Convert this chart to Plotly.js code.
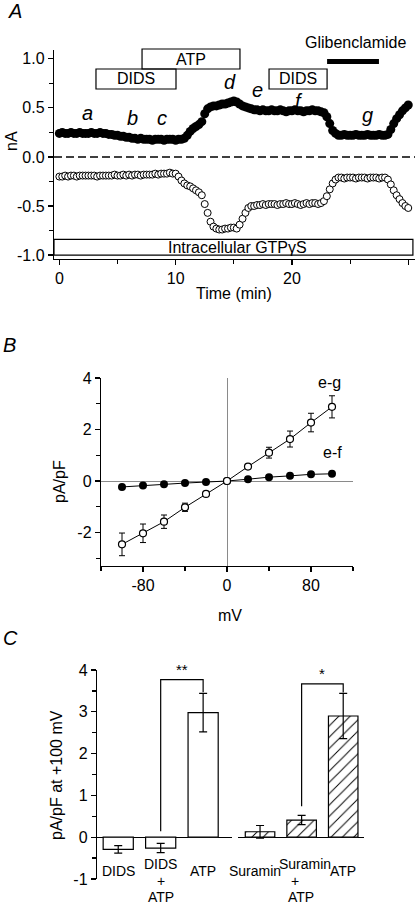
<!DOCTYPE html>
<html><head><meta charset="utf-8">
<script src="https://cdn.plot.ly/plotly-3.0.1.min.js"></script>
<style>html,body{margin:0;padding:0;background:#fff}#chart{width:417px;height:905px}</style>
</head><body><div id="chart"></div>
<script>
// ---------- Panel A: time course ----------
const TIME_MIN = [0,0.25,0.5,0.75,1,1.25,1.5,1.75,2,2.25,2.5,2.75,3,3.25,3.5,3.75,4,4.25,4.5,4.75,5,5.25,5.5,5.75,6,6.25,6.5,6.75,7,7.25,7.5,7.75,8,8.25,8.5,8.75,9,9.25,9.5,9.75,10,10.25,10.5,10.75,11,11.25,11.5,11.75,12,12.25,12.5,12.75,13,13.25,13.5,13.75,14,14.25,14.5,14.75,15,15.25,15.5,15.75,16,16.25,16.5,16.75,17,17.25,17.5,17.75,18,18.25,18.5,18.75,19,19.25,19.5,19.75,20,20.25,20.5,20.75,21,21.25,21.5,21.75,22,22.25,22.5,22.75,23,23.25,23.5,23.75,24,24.25,24.5,24.75,25,25.25,25.5,25.75,26,26.25,26.5,26.75,27,27.25,27.5,27.75,28,28.25,28.5,28.75,29,29.25,29.5,29.75,30];
const OUTWARD_NA = [0.24,0.25,0.24,0.24,0.25,0.24,0.24,0.25,0.24,0.24,0.24,0.25,0.24,0.24,0.25,0.24,0.24,
  0.23,0.23,0.22,0.22,0.21,0.21,0.20,0.20,0.19,0.19,
  0.18,0.19,0.18,0.18,0.18,0.17,0.18,0.18,0.18,0.17,0.18,0.18,0.18,0.17,0.18,0.18,0.19,
  0.22,0.26,0.29,0.31,0.33,0.36,
  0.44,0.49,
  0.51,0.52,0.52,0.53,0.54,0.54,0.55,0.56,0.57,
  0.56,0.54,0.52,0.51,0.50,0.49,
  0.48,0.48,0.47,0.48,0.47,0.47,0.48,0.47,0.47,0.48,0.47,0.46,0.47,0.47,0.48,0.47,0.47,0.46,0.47,0.47,0.48,0.47,0.47,0.46,0.45,
  0.41,0.34,0.27,0.24,
  0.22,0.22,0.23,0.22,0.22,0.22,0.23,0.22,0.22,0.22,0.23,0.22,0.22,0.22,0.23,0.22,0.22,0.23,
  0.28,0.34,0.39,0.43,0.47,0.50,0.53];
const INWARD_NA = [-0.20,-0.20,-0.19,-0.20,-0.19,-0.19,-0.20,-0.19,-0.19,-0.19,
  -0.19,-0.19,-0.19,-0.20,-0.19,-0.19,-0.19,-0.19,-0.19,-0.18,
  -0.19,-0.19,-0.18,-0.19,-0.18,-0.19,-0.18,-0.18,-0.19,-0.18,
  -0.18,-0.18,-0.18,-0.17,-0.18,-0.17,-0.17,-0.17,-0.16,-0.17,
  -0.17,-0.20,-0.24,-0.27,-0.29,-0.30,-0.32,-0.34,-0.36,-0.39,
  -0.48,-0.57,-0.66,-0.71,
  -0.73,-0.74,-0.74,-0.73,-0.73,-0.72,-0.72,-0.73,
  -0.69,-0.63,-0.57,-0.52,-0.50,
  -0.50,-0.49,-0.49,-0.48,-0.49,-0.48,-0.48,-0.48,-0.49,-0.48,-0.48,-0.47,-0.48,-0.48,-0.47,-0.48,-0.49,-0.48,-0.47,-0.48,-0.47,-0.47,-0.48,-0.47,
  -0.45,-0.40,-0.33,-0.27,-0.23,
  -0.21,-0.21,-0.22,-0.21,-0.21,-0.21,-0.22,-0.21,-0.21,-0.21,-0.22,-0.21,-0.21,-0.21,-0.22,-0.21,-0.21,
  -0.23,-0.28,-0.34,-0.39,-0.43,-0.47,-0.50,-0.52];
const A_YTICKS = [-1,-0.5,0,0.5,1];
const A_YTEXT = ['-1.0','-0.5','0.0','0.5','1.0'];
const A_XTICKS = [0,10,20,30];
const A_XTEXT = ['0','10','20','30'];
const A_LETTERS = ['a','b','c','d','e','f','g'];

// ---------- Panel B: I-V ----------
const IV_MV = [-100,-80,-60,-40,-20,0,20,40,60,80,100];
const IV_EF = [-0.23,-0.17,-0.13,-0.08,-0.04,0,0.07,0.15,0.20,0.26,0.28];
const IV_EG = [-2.46,-2.03,-1.58,-1.02,-0.50,0,0.56,1.10,1.63,2.27,2.88];
const IV_EG_ERR = [0.44,0.36,0.26,0.16,0.08,0.03,0.07,0.21,0.31,0.36,0.43];
const B_XTICKS = [-80,0,80];
const B_XTEXT = ['-80','0','80'];
const B_YTICKS = [-2,0,2,4];
const B_YTEXT = ['-2','0','2','4'];

// ---------- Panel C: bars ----------
const BAR_CATS_1 = ['DIDS','DIDS + ATP','ATP'];
const BAR_VALS_1 = [-0.29,-0.26,2.98];
const BAR_ERR_1 = [0.09,0.11,0.46];
const BAR_CATS_2 = ['Suramin','Suramin + ATP','ATP'];
const BAR_VALS_2 = [0.13,0.41,2.90];
const BAR_ERR_2 = [0.15,0.11,0.54];
const C_YTICKS = [-1,0,1,2,3,4];
const C_YTEXT = ['-1','0','1','2','3','4'];

// ---------- layout helpers ----------
const W = 417, H = 905;
const px = v => v / W;
const py = v => 1 - v / H;
const FONT = 'Liberation Sans, Arial, sans-serif';
const BLACK = '#000';

function axis(extra) {
  return Object.assign({
    showline: true, linecolor: BLACK, linewidth: 1.2,
    ticks: 'outside', ticklen: 5, tickwidth: 1.2, tickcolor: BLACK,
    showgrid: false, zeroline: false, fixedrange: true,
    tickfont: {family: FONT, size: 16, color: BLACK}
  }, extra);
}
function minor(d) {
  return {tickmode: 'linear', tick0: 0, dtick: d, ticks: 'outside', ticklen: 4, tickwidth: 1.2, tickcolor: BLACK, showgrid: false};
}

const traces = [
  {type: 'scatter', mode: 'markers', x: TIME_MIN, y: OUTWARD_NA, xaxis: 'x', yaxis: 'y',
   marker: {symbol: 'circle', size: 9, color: BLACK}, hoverinfo: 'skip'},
  {type: 'scatter', mode: 'markers', x: TIME_MIN, y: INWARD_NA, xaxis: 'x', yaxis: 'y',
   marker: {symbol: 'circle', size: 7, color: '#fff', line: {color: BLACK, width: 1}}, hoverinfo: 'skip'},
  {type: 'scatter', mode: 'lines+markers', x: IV_MV, y: IV_EF, xaxis: 'x2', yaxis: 'y2',
   line: {color: BLACK, width: 1}, marker: {size: 8, color: BLACK}},
  {type: 'scatter', mode: 'lines+markers', x: IV_MV, y: IV_EG, xaxis: 'x2', yaxis: 'y2',
   line: {color: BLACK, width: 1}, marker: {size: 7, color: '#fff', line: {color: BLACK, width: 1.2}},
   error_y: {type: 'data', array: IV_EG_ERR, color: BLACK, thickness: 1, width: 3}},
  {type: 'bar', x: BAR_CATS_1, y: BAR_VALS_1, xaxis: 'x3', yaxis: 'y3', width: 0.71,
   marker: {color: '#fff', line: {color: BLACK, width: 1.2}},
   error_y: {type: 'data', array: BAR_ERR_1, color: BLACK, thickness: 1.2, width: 4}},
  {type: 'bar', x: BAR_CATS_2, y: BAR_VALS_2, xaxis: 'x4', yaxis: 'y3', width: 0.71,
   marker: {color: '#fff', line: {color: BLACK, width: 1.2},
            pattern: {shape: '/', fgcolor: BLACK, bgcolor: '#fff', size: 8, solidity: 0.12}},
   error_y: {type: 'data', array: BAR_ERR_2, color: BLACK, thickness: 1.2, width: 4}},
  {type: 'scatter', mode: 'lines', x: [BAR_CATS_1[1], BAR_CATS_1[1], BAR_CATS_1[2], BAR_CATS_1[2]],
   y: [0.14, 3.77, 3.77, 3.47], xaxis: 'x3', yaxis: 'y3', line: {color: BLACK, width: 1.2}, hoverinfo: 'skip'},
  {type: 'scatter', mode: 'lines', x: [BAR_CATS_2[1], BAR_CATS_2[1], BAR_CATS_2[2], BAR_CATS_2[2]],
   y: [0.74, 3.67, 3.67, 3.46], xaxis: 'x4', yaxis: 'y3', line: {color: BLACK, width: 1.2}, hoverinfo: 'skip'}
];

const txt = (text, x, y, o) => Object.assign({text, x, y, xref: 'paper', yref: 'paper', showarrow: false,
  xanchor: 'center', yanchor: 'middle',
  font: {family: FONT, size: 16, color: BLACK}}, o || {});

const annotations = [
  txt('<i>A</i>', px(15), py(11), {font: {family: FONT, size: 20, color: BLACK}}),
  txt('<i>B</i>', px(9), py(345), {font: {family: FONT, size: 20, color: BLACK}}),
  txt('<i>C</i>', px(10), py(638), {font: {family: FONT, size: 20, color: BLACK}}),
  // axis titles
  txt('nA', px(11), py(141), {textangle: -90}),
  txt('Time (min)', px(234.5), py(293)),
  txt('pA/pF', px(59), py(482), {textangle: -90}),
  txt('mV', px(230), py(615)),
  txt('pA/pF at +100 mV', px(56), py(775), {textangle: -90}),
  // panel A labels
  txt('ATP', 11.32, py(59), {xref: 'x'}),
  txt('DIDS', 6.59, py(79), {xref: 'x'}),
  txt('DIDS', 20.52, py(79), {xref: 'x'}),
  txt('Glibenclamide', 25.5, py(43), {xref: 'x'}),
  txt('Intracellular GTPγS', 15.3, -0.92, {xref: 'x', yref: 'y'}),
  // panel B labels
  txt('e-g', 98, 3.84, {xref: 'x2', yref: 'y2'}),
  txt('e-f', 100, 1.09, {xref: 'x2', yref: 'y2'}),
  // significance
  txt('**', 1.5, py(669), {xref: 'x3', font: {family: FONT, size: 15, color: BLACK}}),
  txt('*', 1.5, py(673), {xref: 'x4', font: {family: FONT, size: 15, color: BLACK}})
];
const LETTER_POS = [[2.38,0.45],[6.26,0.40],[8.84,0.40],[14.68,0.765],[17.0,0.684],[20.6,0.571],[26.5,0.43]];
A_LETTERS.forEach((l, i) => annotations.push(
  txt('<i>' + l + '</i>', LETTER_POS[i][0], LETTER_POS[i][1], {xref: 'x', yref: 'y', font: {family: FONT, size: 20, color: BLACK}})));

// bar category labels (multi-line with tight spacing)
const LABEL_FONT = {family: FONT, size: 14, color: BLACK};
function barLabels(cats, xref, shifts) {
  cats.forEach((c, i) => {
    const parts = c.split(' + ');
    const sh = shifts[i];
    if (parts.length === 1) {
      annotations.push(txt(c, c, py(871), {xref, xshift: sh[0], font: LABEL_FONT}));
    } else {
      const lines = [parts[0], '+', parts[1]];
      lines.forEach((ln, k) => annotations.push(txt(ln, c, py(864 + 16.5 * k), {xref, xshift: sh[k], font: LABEL_FONT})));
    }
  });
}
barLabels(BAR_CATS_1, 'x3', [[0], [0, 0, 0], [0]]);
barLabels(BAR_CATS_2, 'x4', [[-5], [3, -7, -1], [0]]);

const shapes = [
  {type: 'rect', xref: 'x', yref: 'paper', x0: 7.11, x1: 15.53, y0: py(69), y1: py(49), line: {color: BLACK, width: 1.2}},
  {type: 'rect', xref: 'x', yref: 'paper', x0: 3.15, x1: 10.03, y0: py(89), y1: py(69), line: {color: BLACK, width: 1.2}},
  {type: 'rect', xref: 'x', yref: 'paper', x0: 18.03, x1: 23.02, y0: py(89), y1: py(69), line: {color: BLACK, width: 1.2}},
  {type: 'rect', xref: 'x', yref: 'paper', x0: 23.02, x1: 27.48, y0: py(64), y1: py(59), fillcolor: BLACK, line: {color: BLACK, width: 0}},
  {type: 'line', xref: 'x', yref: 'y', x0: -0.46, x1: 30.58, y0: 0, y1: 0, line: {color: BLACK, width: 1.5, dash: '8px,4px'}},
  {type: 'rect', xref: 'x', yref: 'y', x0: -0.46, x1: 30.4, y0: -1.0, y1: -0.84, line: {color: BLACK, width: 1.2}}
];

const layout = {
  width: W, height: H, margin: {l: 0, r: 0, t: 0, b: 0},
  paper_bgcolor: '#fff', plot_bgcolor: 'rgba(0,0,0,0)', showlegend: false,
  font: {family: FONT, size: 16, color: BLACK},
  xaxis: axis({domain: [px(54), px(415)], range: [-0.46, 30.58], anchor: 'y',
    tickmode: 'array', tickvals: A_XTICKS, ticktext: A_XTEXT, minor: minor(5)}),
  yaxis: axis({domain: [py(259), py(50)], range: [-1.04, 1.09], anchor: 'x',
    tickmode: 'array', tickvals: A_YTICKS, ticktext: A_YTEXT, minor: minor(0.25)}),
  xaxis2: axis({domain: [px(101), px(353)], range: [-120, 120], anchor: 'y2',
    tickmode: 'array', tickvals: B_XTICKS, ticktext: B_XTEXT, minor: minor(40),
    zeroline: true, zerolinecolor: '#8a8a8a', zerolinewidth: 1}),
  yaxis2: axis({domain: [py(566), py(378)], range: [-3.3, 4], anchor: 'x2',
    tickmode: 'array', tickvals: B_YTICKS, ticktext: B_YTEXT, minor: minor(1),
    zeroline: true, zerolinecolor: '#8a8a8a', zerolinewidth: 1}),
  xaxis3: {domain: [px(97), px(232)], range: [-0.5, 2.68], type: 'category', categoryorder: 'array',
    categoryarray: BAR_CATS_1, anchor: 'y3', showline: false, ticks: '', showticklabels: false,
    showgrid: false, zeroline: false, fixedrange: true},
  xaxis4: {domain: [px(238), px(364)], range: [-0.53, 2.5], type: 'category', categoryorder: 'array',
    categoryarray: BAR_CATS_2, anchor: 'y3', showline: false, ticks: '', showticklabels: false,
    showgrid: false, zeroline: false, fixedrange: true},
  yaxis3: axis({domain: [py(879), py(670)], range: [-1, 4], anchor: 'x3',
    tickmode: 'array', tickvals: C_YTICKS, ticktext: C_YTEXT, minor: minor(0.5),
    zeroline: true, zerolinecolor: BLACK, zerolinewidth: 1.2}),
  shapes, annotations
};

Plotly.newPlot('chart', traces, layout, {staticPlot: true, displayModeBar: false});
</script>
</body></html>
